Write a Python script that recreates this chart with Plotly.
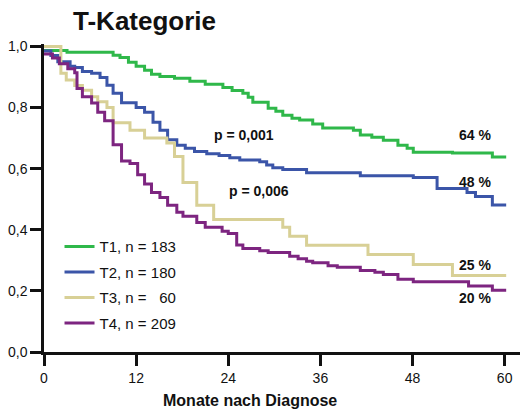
import plotly.graph_objects as go

# ---- data ----
t1_months = [0, 3.0, 9.0, 9.9, 11.0, 12.0, 13.1, 14.0, 15.1, 17.0, 19.0, 21.0, 23.3, 24.5, 25.9, 26.6,
             27.2, 29.2, 30.2, 31.1, 32.3, 33.3, 35.0, 36.3, 40.3, 41.2, 42.7, 44.2, 46.1, 47.3,
             48.1, 53.2, 58.4, 60.2]
t1_surv = [0.987, 0.981, 0.971, 0.964, 0.948, 0.935, 0.922, 0.909, 0.902, 0.896, 0.886, 0.876, 0.866,
           0.856, 0.847, 0.834, 0.817, 0.798, 0.788, 0.775, 0.765, 0.759, 0.746, 0.733, 0.726, 0.710,
           0.703, 0.693, 0.677, 0.667, 0.654, 0.651, 0.638, 0.638]

t2_months = [0, 0.9, 1.8, 3.4, 4.0, 5.0, 6.2, 7.3, 8.2, 9.0, 10.1, 12.0, 13.1, 14.2, 15.1, 16.1, 17.3,
             18.4, 19.6, 21.2, 22.8, 24.2, 25.5, 28.1, 29.0, 29.8, 31.1, 34.2, 41.2, 48.1, 51.2,
             55.1, 56.2, 58.4, 60.2]
t2_surv = [0.985, 0.970, 0.950, 0.935, 0.931, 0.918, 0.912, 0.898, 0.873, 0.847, 0.816, 0.800, 0.785,
           0.752, 0.726, 0.695, 0.677, 0.667, 0.656, 0.649, 0.643, 0.636, 0.628, 0.623, 0.612, 0.603,
           0.597, 0.587, 0.577, 0.571, 0.535, 0.522, 0.509, 0.481, 0.481]

t3_months = [0, 2.2, 2.9, 4.0, 5.0, 6.2, 7.0, 8.2, 9.0, 11.2, 13.1, 16.0, 17.0, 18.1, 19.9, 22.1,
             31.1, 32.0, 34.2, 42.2, 48.1, 53.2, 60.2]
t3_surv = [1.0, 0.912, 0.890, 0.872, 0.857, 0.835, 0.819, 0.800, 0.750, 0.726, 0.700, 0.684, 0.640,
           0.555, 0.480, 0.434, 0.408, 0.379, 0.349, 0.319, 0.286, 0.250, 0.250]

t4_months = [0, 1.1, 2.0, 3.1, 4.0, 4.3, 5.0, 6.2, 7.0, 7.9, 9.0, 10.1, 11.2, 12.2, 13.1, 14.0, 15.1,
             16.1, 17.3, 18.1, 19.9, 21.0, 23.2, 24.0, 25.1, 25.9, 28.1, 29.2, 32.0, 33.1, 34.2,
             35.0, 37.0, 38.2, 41.2, 43.1, 44.2, 46.1, 48.1, 55.3, 58.4, 60.2]
t4_surv = [0.975, 0.962, 0.943, 0.927, 0.914, 0.862, 0.835, 0.815, 0.785, 0.757, 0.678, 0.625, 0.617,
           0.580, 0.550, 0.522, 0.506, 0.480, 0.457, 0.444, 0.424, 0.408, 0.395, 0.388, 0.350, 0.339,
           0.331, 0.326, 0.313, 0.305, 0.297, 0.292, 0.282, 0.277, 0.267, 0.261, 0.254, 0.238, 0.230,
           0.216, 0.202, 0.202]

series_names = ["T1, n = 183", "T2, n = 180", "T3, n = \u00a0\u00a060", "T4, n = 209"]
series_colors = ["#2fb84a", "#3b55a8", "#d8d096", "#7d2580"]

x_ticks = [0, 12, 24, 36, 48, 60]
y_ticks = [0.0, 0.2, 0.4, 0.6, 0.8, 1.0]
y_tick_labels = ["0,0", "0,2", "0,4", "0,6", "0,8", "1,0"]

end_labels = ["64 %", "48 %", "25 %", "20 %"]
end_label_y = [0.71, 0.556, 0.285, 0.178]
p_labels = ["p = 0,001", "p = 0,006"]
p_label_x = [26.0, 28.0]
p_label_y = [0.71, 0.527]

FONT = "Liberation Sans, Arial"

# ---- figure ----
fig = go.Figure()
all_x = [t1_months, t2_months, t3_months, t4_months]
all_y = [t1_surv, t2_surv, t3_surv, t4_surv]
for i in range(4):
    fig.add_trace(go.Scatter(
        x=all_x[i], y=all_y[i], mode="lines", line_shape="hv",
        line=dict(color=series_colors[i], width=3),
        name=series_names[i], legendgroup=f"g{i}",
    ))

for lab, yy in zip(end_labels, end_label_y):
    fig.add_annotation(x=56.2, y=yy, text=f"<b>{lab}</b>", showarrow=False,
                       font=dict(family=FONT, size=14, color="#111"))
for lab, xx, yy in zip(p_labels, p_label_x, p_label_y):
    fig.add_annotation(x=xx, y=yy, text=f"<b>{lab}</b>", showarrow=False,
                       font=dict(family=FONT, size=14, color="#111"))

fig.add_annotation(x=(250 - 44) / 476, y=-(400 - 352) / 308, xref="paper", yref="paper",
                   xanchor="center", yanchor="middle", text="<b>Monate nach Diagnose</b>",
                   showarrow=False, font=dict(family=FONT, size=16, color="#111"))

fig.update_layout(
    width=525, height=416,
    margin=dict(l=44, r=5, t=44, b=64),
    paper_bgcolor="white", plot_bgcolor="white",
    title=dict(text="<b>T-Kategorie</b>", x=73 / 525, xanchor="left", y=1 - 21 / 416, yanchor="middle",
               font=dict(family=FONT, size=26, color="#111")),
    font=dict(family=FONT, size=14, color="#111"),
    showlegend=True,
    legend=dict(x=0.0326, y=0.395, xanchor="left", yanchor="top", bgcolor="rgba(0,0,0,0)",
                font=dict(size=15, color="#111"), tracegroupgap=3, traceorder="grouped"),
    xaxis=dict(range=[0, 62], tickvals=x_ticks, ticks="outside", ticklen=11, tickwidth=2.5,
               tickcolor="#111", showline=True, linecolor="#111", linewidth=2.5, automargin=False,
               showgrid=False, zeroline=False, tickfont=dict(size=14)),
    yaxis=dict(range=[0, 1.008], tickvals=y_ticks, ticktext=y_tick_labels, ticks="outside",
               ticklen=11, tickwidth=2.5, tickcolor="#111", showline=True, linecolor="#111",
               linewidth=2.5, automargin=False, showgrid=False, zeroline=False,
               tickfont=dict(size=14)),
)

fig.write_html("out.html", config={"displayModeBar": False},
               post_script="document.body.style.margin='0';")
